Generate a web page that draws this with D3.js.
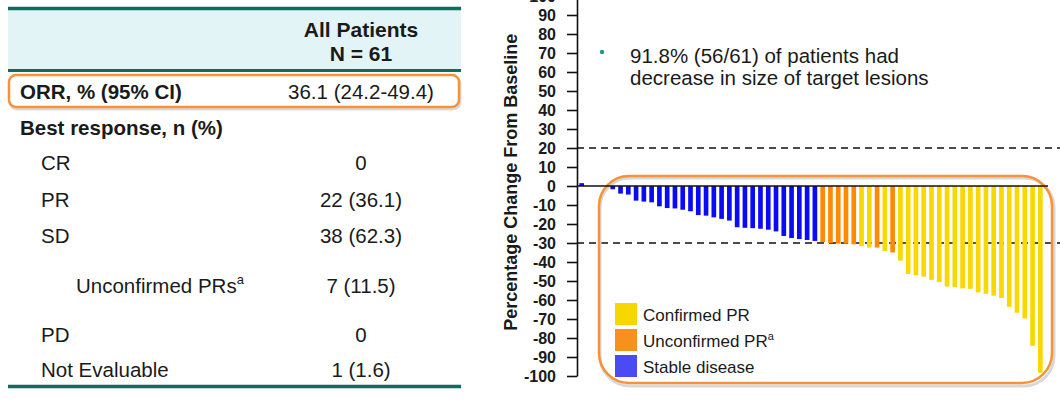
<!DOCTYPE html>
<html>
<head>
<meta charset="utf-8">
<script src="https://cdn.jsdelivr.net/npm/d3@7"></script>
<style>
  html, body { margin: 0; padding: 0; background: #fff; }
  svg { display: block; font-family: "Liberation Sans", Arial, sans-serif; }
</style>
</head>
<body>
<svg id="chart" width="1060" height="410"></svg>
<script>
// ---------- DATA ----------
const tableHeader = ["All Patients", "N = 61"];
const tableLabels = ["ORR, % (95% CI)", "Best response, n (%)", "CR", "PR", "SD", "Unconfirmed PRs", "PD", "Not Evaluable"];
const tableValues = ["36.1 (24.2-49.4)", "", "0", "22 (36.1)", "38 (62.3)", "7 (11.5)", "0", "1 (1.6)"];
const tableIndent = [0, 0, 1, 1, 1, 2, 1, 1];
const tableBold = [true, true, false, false, false, false, false, false];
const tableSup = ["", "", "", "", "", "a", "", ""];

// Waterfall: best % change from baseline for each of 60 evaluable patients
const responseValues = [
  1.5, 0, 0, 0, -1.7, -4.0, -4.5, -7.7, -8.2, -8.6, -10.7, -11.6, -11.8, -12.5,
  -13.3, -15.3, -15.6, -16.5, -17.3, -18.2, -21.7, -22.0, -22.2, -22.5, -23.0,
  -23.9, -26.3, -27.4, -27.9, -28.4, -28.9,
  -29.5, -30.0, -30.3, -30.3, -30.7, -31.7, -32.4, -32.4, -34.3, -35.0, -39.3,
  -46.3, -47.0, -47.7, -49.4, -50.6, -52.9, -53.2, -53.9, -54.1, -56.0, -56.7,
  -57.7, -58.9, -63.6, -66.7, -69.7, -84.1, -98.3
];
const responseTypes = [
  "SD","SD","SD","SD","SD","SD","SD","SD","SD","SD","SD","SD","SD","SD",
  "SD","SD","SD","SD","SD","SD","SD","SD","SD","SD","SD",
  "SD","SD","SD","SD","SD","SD",
  "uPR","uPR","uPR","uPR","uPR","cPR","cPR","uPR","cPR","uPR","cPR",
  "cPR","cPR","cPR","cPR","cPR","cPR","cPR","cPR","cPR","cPR","cPR",
  "cPR","cPR","cPR","cPR","cPR","cPR","cPR"
];
const legendKeys = ["cPR", "uPR", "SD"];
const legendLabels = ["Confirmed PR", "Unconfirmed PR", "Stable disease"];
const legendSup = ["", "a", ""];
const yTicks = d3.range(-100, 101, 10);
const refLines = [20, -30];
const noteLines = ["91.8% (56/61) of patients had", "decrease in size of target lesions"];
const yTitle = "Percentage Change From Baseline";

// ---------- STYLE ----------
const teal = "#0f6b5c";
const frameOrange = "#f7923a";
const barColor = { cPR: "#f9d800", uPR: "#ff8a00", SD: "#0a0af8" };
const legendColor = { cPR: "#f6d800", uPR: "#f8901e", SD: "#4b4bf4" };
const textColor = "#1a1a1a";

const svg = d3.select("#chart");
svg.append("rect").attr("width", 1060).attr("height", 410).attr("fill", "#fff");

// ---------- TABLE ----------
const tbl = svg.append("g");
tbl.append("rect").attr("x", 8).attr("y", 10).attr("width", 453).attr("height", 59).attr("fill", "#e3f4f6");
tbl.append("line").attr("x1", 8).attr("x2", 461).attr("y1", 8.5).attr("y2", 8.5).attr("stroke", teal).attr("stroke-width", 3.5);
tbl.append("line").attr("x1", 8).attr("x2", 461).attr("y1", 70.5).attr("y2", 70.5).attr("stroke", teal).attr("stroke-width", 3);
tbl.append("line").attr("x1", 8).attr("x2", 461).attr("y1", 386.5).attr("y2", 386.5).attr("stroke", teal).attr("stroke-width", 3.5);

const valueX = 361;
tbl.selectAll("text.hdr").data(tableHeader).join("text")
  .attr("class", "hdr")
  .attr("x", valueX).attr("y", (d, i) => [29, 53][i])
  .attr("text-anchor", "middle").attr("dominant-baseline", "central")
  .attr("font-size", 21).attr("font-weight", "bold").attr("fill", textColor)
  .text(d => d);

// ORR highlight box
tbl.append("rect").attr("x", 10).attr("y", 77).attr("width", 450).attr("height", 32).attr("rx", 7)
  .attr("fill", "none").attr("stroke", "#d9d9d9").attr("stroke-width", 3);
tbl.append("rect").attr("x", 9).attr("y", 75).attr("width", 450).attr("height", 32).attr("rx", 7)
  .attr("fill", "#fff").attr("stroke", frameOrange).attr("stroke-width", 2.5);

const rowY = [91, 127, 162, 199, 235, 285, 334, 369];
const indentX = [20, 41, 76];
tableLabels.forEach((lab, i) => {
  const t = tbl.append("text")
    .attr("x", indentX[tableIndent[i]]).attr("y", rowY[i])
    .attr("dominant-baseline", "central")
    .attr("font-size", 20.5).attr("font-weight", tableBold[i] ? "bold" : "normal")
    .attr("fill", textColor);
  t.append("tspan").text(lab);
  if (tableSup[i]) t.append("tspan").attr("font-size", 13).attr("dy", -6).text(tableSup[i]);
  if (tableValues[i]) {
    tbl.append("text").attr("x", valueX).attr("y", rowY[i])
      .attr("text-anchor", "middle").attr("dominant-baseline", "central")
      .attr("font-size", 20.5).attr("fill", textColor).text(tableValues[i]);
  }
});

// ---------- WATERFALL ----------
const axisX = 577;
const y = d3.scaleLinear().domain([-100, 100]).range([376, -4]);
const x = d3.scaleBand().domain(d3.range(responseValues.length)).range([577, 1045])
  .paddingInner(0.4).paddingOuter(0.3);

const chart = svg.append("g");

// reference dashed lines
chart.selectAll("line.ref").data(refLines).join("line")
  .attr("class", "ref")
  .attr("x1", axisX).attr("x2", 1060)
  .attr("y1", d => y(d)).attr("y2", d => y(d))
  .attr("stroke", "#111").attr("stroke-width", 1.5).attr("stroke-dasharray", "7,5");

// highlight frame with soft shadow
chart.append("rect").attr("x", 600).attr("y", 178).attr("width", 454).attr("height", 208).attr("rx", 30)
  .attr("fill", "none").attr("stroke", "#d8d8d8").attr("stroke-width", 3);
chart.append("rect").attr("x", 599).attr("y", 176).attr("width", 453).attr("height", 207).attr("rx", 30)
  .attr("fill", "none").attr("stroke", frameOrange).attr("stroke-width", 2.5);

// bars
chart.selectAll("rect.bar").data(responseValues).join("rect")
  .attr("class", "bar")
  .attr("x", (d, i) => x(i))
  .attr("width", x.bandwidth())
  .attr("y", d => y(Math.max(0, d)))
  .attr("height", d => Math.abs(y(d) - y(0)))
  .attr("fill", (d, i) => barColor[responseTypes[i]]);

// zero line
chart.append("line").attr("x1", axisX).attr("x2", 1048)
  .attr("y1", y(0)).attr("y2", y(0)).attr("stroke", "#111").attr("stroke-width", 1.5);

// y axis
const yAxis = d3.axisLeft(y).tickValues(yTicks).tickSize(10).tickSizeOuter(0).tickPadding(11)
  .tickFormat(d => String(d));
const ag = chart.append("g").attr("transform", `translate(${axisX},0)`).call(yAxis);
ag.select(".domain").attr("stroke", "#111").attr("stroke-width", 1.6);
ag.selectAll(".tick line").attr("stroke", "#111").attr("stroke-width", 1.6);
ag.selectAll(".tick text").attr("font-size", 16).attr("font-weight", "bold").attr("fill", textColor)
  .attr("font-family", "Liberation Sans, Arial, sans-serif");

// y title
chart.append("text")
  .attr("transform", `translate(511,${y(2)}) rotate(-90)`)
  .attr("text-anchor", "middle").attr("dominant-baseline", "central")
  .attr("font-size", 18).attr("font-weight", "bold").attr("fill", textColor)
  .text(yTitle);

// note
chart.append("circle").attr("cx", 602).attr("cy", 52).attr("r", 2.2).attr("fill", "#1e9a8c");
chart.selectAll("text.note").data(noteLines).join("text")
  .attr("class", "note")
  .attr("x", 630).attr("y", (d, i) => 55 + i * 22)
  .attr("dominant-baseline", "central")
  .attr("font-size", 20.5).attr("fill", textColor)
  .text(d => d);

// legend
const lg = chart.append("g");
legendKeys.forEach((k, i) => {
  const ly = 303 + i * 26;
  lg.append("rect").attr("x", 615).attr("y", ly).attr("width", 22).attr("height", 22).attr("fill", legendColor[k]);
  const t = lg.append("text").attr("x", 643).attr("y", ly + 12)
    .attr("dominant-baseline", "central").attr("font-size", 17).attr("fill", textColor);
  t.append("tspan").text(legendLabels[i]);
  if (legendSup[i]) t.append("tspan").attr("font-size", 11).attr("dy", -5).text(legendSup[i]);
});
</script>
</body>
</html>
